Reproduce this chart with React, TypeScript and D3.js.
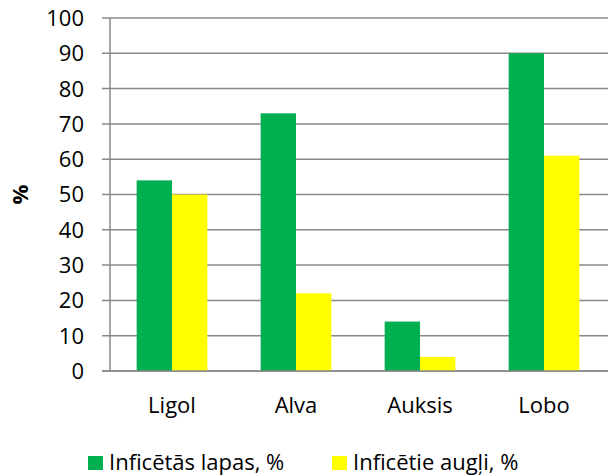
import * as d3 from 'd3';

const categories = ['Ligol', 'Alva', 'Auksis', 'Lobo'];
const leaves = [54, 73, 14, 90];
const fruits = [50, 22, 4, 61];
const seriesNames = ['Inficētās lapas, %', 'Inficētie augļi, %'];
const yTicks = [0, 10, 20, 30, 40, 50, 60, 70, 80, 90, 100];

const colors = ['#00B050', '#FFFF00'];
const font = '"Open Sans", Lato, sans-serif';

export default function App() {
  const width = 608;
  const height = 476;
  const margin = { top: 18, right: 2, bottom: 105, left: 110 };

  const x = d3
    .scaleBand()
    .domain(categories)
    .range([margin.left, width - margin.right])
    .paddingInner(0.43)
    .paddingOuter(0.215);
  const y = d3.scaleLinear().domain([0, 100]).range([height - margin.bottom, margin.top]);
  const inner = d3.scaleBand().domain(['0', '1']).range([0, x.bandwidth()]);

  const series = [leaves, fruits];

  return (
    <svg width={width} height={height} style={{ position: 'absolute', left: 0, top: 0, background: '#fff' }}>
      <g className="grid">
        {yTicks.map((t) => (
          <line key={t} x1={margin.left - 8} x2={width} y1={y(t)} y2={y(t)} stroke="#888" strokeWidth={1.5} />
        ))}
      </g>
      <line x1={margin.left} x2={margin.left} y1={y(100)} y2={y(0)} stroke="#888" strokeWidth={1.5} />
      <g className="bars">
        {series.map((vals, si) =>
          categories.map((c, i) => (
            <rect
              key={c + si}
              x={(x(c) as number) + (inner(String(si)) as number)}
              y={y(vals[i])}
              width={inner.bandwidth()}
              height={y(0) - y(vals[i])}
              fill={colors[si]}
            />
          ))
        )}
      </g>
      <line x1={margin.left - 8} x2={width} y1={y(0)} y2={y(0)} stroke="#888" strokeWidth={1.5} />
      <g className="y-labels" fontFamily={font} fontSize={22} fill="#000" textAnchor="end">
        {yTicks.map((t) => (
          <text key={t} x={84} y={y(t)} dy="0.36em">
            {t}
          </text>
        ))}
      </g>
      <text
        transform={`translate(28,${(y(0) + y(100)) / 2}) rotate(-90)`}
        textAnchor="middle"
        fontFamily={font}
        fontSize={22}
        fontWeight="bold"
        fill="#000"
      >
        %
      </text>
      <g className="x-labels" fontFamily={font} fontSize={22} fill="#000" textAnchor="middle">
        {categories.map((c) => (
          <text key={c} x={(x(c) as number) + x.bandwidth() / 2} y={413}>
            {c}
          </text>
        ))}
      </g>
      <g className="legend" fontFamily={font} fontSize={22} fill="#000">
        {seriesNames.map((n, i) => {
          const lx = i === 0 ? 88 : 332;
          return (
            <g key={n}>
              <rect x={lx} y={456} width={15} height={14} fill={colors[i]} />
              <text x={lx + 21} y={470}>
                {n}
              </text>
            </g>
          );
        })}
      </g>
    </svg>
  );
}
